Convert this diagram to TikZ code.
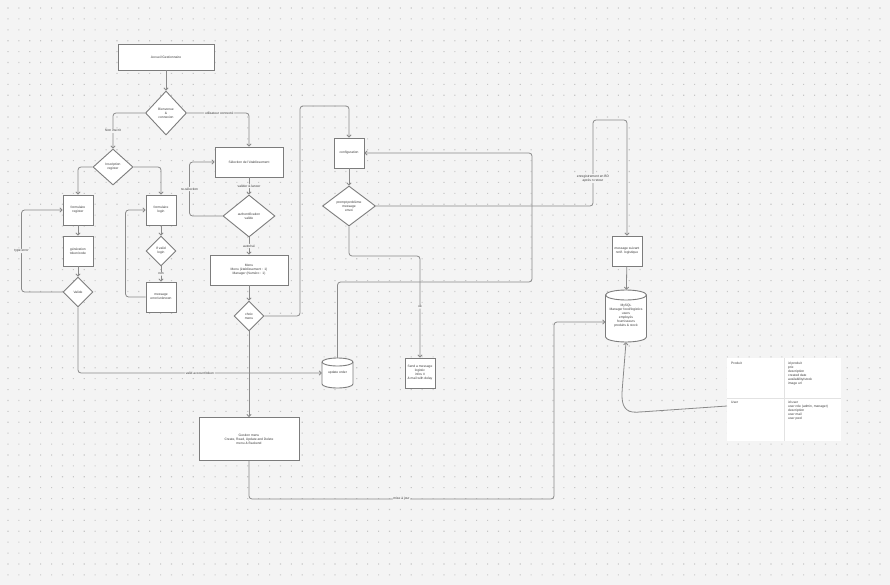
\documentclass[tikz,border=0pt]{standalone}
\usepackage{fontspec}
\setmainfont{Liberation Sans}
\usetikzlibrary{arrows.meta,shapes.geometric,calc}
\definecolor{bg}{HTML}{F4F4F4}
\definecolor{dotc}{HTML}{C6C6C6}
\definecolor{edge}{HTML}{8A8A8A}
\definecolor{bord}{HTML}{7C7C7C}
\definecolor{txt}{HTML}{3A3A3A}
\definecolor{tabl}{HTML}{E2E2E2}
\begin{document}
\begin{tikzpicture}[x=1pt,y=-1pt,
  every node/.style={font=\fontsize{3.3}{4}\selectfont, text=txt, align=center},
  box/.style={draw=bord, line width=0.9pt, fill=white, rectangle, inner sep=1pt},
  dia/.style={draw=bord, line width=0.9pt, fill=white, diamond, inner sep=0pt},
  cyl/.style={draw=bord, line width=0.9pt, fill=white},
  conn/.style={draw=edge, line width=0.8pt, rounded corners=3pt, -{Straight Barb[length=2.2pt,width=4.4pt]}},
  lbl/.style={fill=bg, inner sep=0.8pt},
  tabtxt/.style={anchor=north west, align=left, inner sep=0pt},
]
% background and dot grid
\fill[bg] (0,0) rectangle (890,585);
\useasboundingbox (0,0) rectangle (890,585);
\foreach \j in {0,...,52}{
  \fill[dotc] \foreach \i in {0,...,80}{ (7.4+10.9*\i,7.5+10.9*\j) rectangle ++(1.1,1.1) };
}

% cylinder outlines (drawn as shapes)
\filldraw[cyl] (322,362) -- (322,384) arc[start angle=180,end angle=360,x radius=15.5pt,y radius=4pt] -- (353,362) arc[start angle=0,end angle=180,x radius=15.5pt,y radius=4pt] -- cycle;
\draw[cyl,fill=none] (322,362) arc[start angle=180,end angle=360,x radius=15.5pt,y radius=4pt];
\filldraw[cyl] (605.5,295) -- (605.5,337) arc[start angle=180,end angle=360,x radius=20.5pt,y radius=5pt] -- (646.5,295) arc[start angle=0,end angle=180,x radius=20.5pt,y radius=5pt] -- cycle;
\draw[cyl,fill=none] (605.5,295) arc[start angle=180,end angle=360,x radius=20.5pt,y radius=5pt];

% table
\node[fill=white, minimum width=114pt, minimum height=83pt, inner sep=0pt] (tab) at (784,399.5) {};
\draw[tabl, line width=0.6pt] (784,358) -- (784,441);
\draw[tabl, line width=0.6pt] (727,398) -- (841,398);
\node[tabtxt] (plbl) at (731,362) {Produit};
\node[tabtxt] (pcol) at (788,362) {id produit\\prix\\description\\created date\\availability/stock\\image url};
\node[tabtxt] (ulbl) at (731,401) {User};
\node[tabtxt] (ucol) at (788,401) {id user\\user role (admin, manager)\\description\\user mail\\user pwd};
\coordinate (tabin) at (727,406);

% nodes
\node[box, minimum width=96pt, minimum height=26pt] (top) at (166,57) {Accueil Gestionnaire};
\node[dia, minimum width=41pt, minimum height=44pt] (d1) at (166,113) {Bienvenue\\\&\\connexion};
\node[dia, minimum width=40pt, minimum height=36pt] (d2) at (113,167) {Inscription\\register};
\node[box, minimum size=30pt] (reg) at (78,210) {formulaire\\register};
\node[box, minimum size=30pt] (gen) at (78,251) {génération\\token/code};
\node[dia, minimum size=30pt] (d3) at (78,292) {Valide};
\node[box, minimum size=30pt] (login) at (161,210) {formulaire\\login};
\node[dia, minimum size=30pt] (d4) at (161,251) {If valid\\login};
\node[box, minimum size=30pt] (msg) at (161,297) {message\\error/unknown};
\node[box, minimum width=68pt, minimum height=30pt] (b3) at (249,162) {Sélection de l'établissement};
\node[dia, minimum width=52pt, minimum height=42pt] (d5) at (249,216) {authentification\\valide};
\node[box, minimum width=78pt, minimum height=30pt] (b4) at (249,270) {Menu\\Menu (établissement : 1)\\Manager (Numéro : 1)};
\node[dia, minimum size=30pt] (d6) at (249,316) {choix\\menu};
\node[box, minimum width=100pt, minimum height=43pt] (b5) at (249,439) {Gestion menu\\Create, Read, Update and Delete\\menu \& Backend};
\node[box, minimum size=30pt] (cfg) at (349,153) {configuration};
\node[dia, minimum width=53pt, minimum height=40pt] (d7) at (349,206) {prompt problème\\message\\envoi};
\node[box, minimum size=30pt] (send) at (420,373) {Send a message\\logistic\\infos \#\\\& mail with delay};
\node[box, minimum size=30pt] (msg2) at (627,251) {message suivant\\notif. logistique};
\node[minimum width=31pt, minimum height=30pt, inner sep=0pt] (upd) at (337.5,373) {update order};
\node[minimum width=41pt, minimum height=52pt, inner sep=0pt] (db) at (626,316) {MySQL\\Manager food/logistics\\users\\employés\\fournisseurs\\produits \& stock};

% connectors
\draw[conn] (top) -- (d1);
\draw[conn] (d1.west) -| (d2.north) node[lbl,pos=0.75]{Non inscrit};
\draw[conn] (d1.east) -| (b3.north) node[lbl,pos=0.26]{utilisateur connecté};
\draw[conn] (d2.west) -| (reg.north);
\draw[conn] (d2.east) -| (login.north);
\draw[conn] (reg) -- (gen);
\draw[conn] (gen) -- (d3);
\draw[conn] (d3.west) -- ++(-41,0) |- (reg.west) node[lbl,pos=0.25]{type error};
\draw[conn] (d3.south) |- (upd.west) node[lbl,pos=0.75]{valid account/token};
\draw[conn] (login) -- (d4);
\draw[conn] (d4) -- (msg) node[lbl,midway]{non};
\draw[conn] (msg.west) -- ++(-20,0) |- (login.west);
\draw[conn] (b3) -- (d5) node[lbl,midway]{valider \& lancer};
\draw[conn] (d5.west) -- ++(-33,0) |- (b3.west) node[lbl,pos=0.25]{re-sélection};
\draw[conn] (d5) -- (b4) node[lbl,midway]{autorisé};
\draw[conn] (b4) -- (d6);
\draw[conn] (d6.east) -| (300,106) -| (cfg.north);
\draw[conn] (d6) -- (b5);
\draw[conn] (b5.south) |- (554,499) node[lbl,pos=0.75]{mise à jour} |- ([yshift=-6pt]db.west);
\draw[conn] (upd.north) |- (532,282) |- (cfg.east);
\draw[conn] (cfg) -- (d7);
\draw[conn] (d7.east) -| (593,120) node[lbl,pos=0.66]{enregistrement en BD\\après n retour} -| (msg2.north);
\draw[conn] (msg2) -- (db);
\draw[conn] (d7.south) |- (420,256) -- (send.north) node[lbl,midway]{ok};
\draw[conn] (tabin) -- (640,412) .. controls (624,413) and (622,404) .. (622,392) -- (db.south);
\end{tikzpicture}
\end{document}
